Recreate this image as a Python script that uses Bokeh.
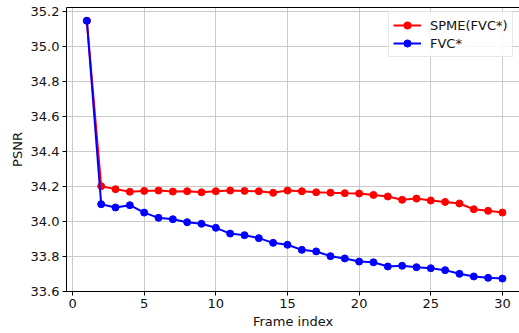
from bokeh.plotting import figure
from bokeh.models import FixedTicker, NumeralTickFormatter, LinearAxis, Range1d
from bokeh.embed import file_html
from bokeh.resources import INLINE

frames = list(range(1, 31))
spme = [35.147, 34.202, 34.185, 34.170, 34.175, 34.177, 34.171, 34.173, 34.167, 34.173,
        34.177, 34.175, 34.173, 34.164, 34.177, 34.173, 34.167, 34.165, 34.162, 34.160,
        34.152, 34.143, 34.124, 34.131, 34.120, 34.112, 34.103, 34.070, 34.061, 34.051]
fvc = [35.147, 34.099, 34.080, 34.093, 34.051, 34.021, 34.013, 33.996, 33.987, 33.964,
       33.931, 33.922, 33.905, 33.878, 33.867, 33.838, 33.829, 33.802, 33.789, 33.771,
       33.767, 33.743, 33.747, 33.739, 33.733, 33.722, 33.701, 33.686, 33.678, 33.674]
x_ticks = [0, 5, 10, 15, 20, 25, 30]
y_ticks = [33.6, 33.8, 34.0, 34.2, 34.4, 34.6, 34.8, 35.0, 35.2]

FONT = "DejaVu Sans"

p = figure(width=519, height=333, output_backend="svg", toolbar_location=None,
           x_range=Range1d(-0.42, 31.19), y_range=Range1d(33.6, 35.223),
           min_border_left=66, min_border_right=0, min_border_top=7, min_border_bottom=42)
p.background_fill_color = "white"
p.border_fill_color = "white"
p.outline_line_color = None

for ax in (p.xaxis[0], p.yaxis[0]):
    ax.axis_line_color = "black"
    ax.axis_line_width = 1
    ax.major_tick_line_color = "black"
    ax.major_tick_out = 4
    ax.major_tick_in = 0
    ax.minor_tick_line_color = None
    ax.major_label_text_font = FONT
    ax.major_label_text_font_size = "13px"
    ax.major_label_text_color = "#111111"
    ax.axis_label_text_font = FONT
    ax.axis_label_text_font_size = "13px"
    ax.axis_label_text_font_style = "normal"
    ax.axis_label_text_color = "#111111"

p.xaxis.ticker = FixedTicker(ticks=x_ticks)
p.yaxis.ticker = FixedTicker(ticks=y_ticks)
p.yaxis.formatter = NumeralTickFormatter(format="0.0")
p.xaxis.axis_label = "Frame index"
p.yaxis.axis_label = "PSNR"
p.xaxis.major_label_standoff = 3
p.xaxis.axis_label_standoff = 3
p.yaxis.major_label_standoff = 3
p.yaxis.axis_label_standoff = 3

top = LinearAxis(ticker=FixedTicker(ticks=[]), axis_line_color="black",
                 major_tick_line_color=None, minor_tick_line_color=None,
                 major_label_text_font_size="0px", major_label_standoff=0)
p.add_layout(top, "above")

p.xgrid.grid_line_color = "#cbcbcb"
p.ygrid.grid_line_color = "#cbcbcb"
p.xgrid.grid_line_width = 1
p.ygrid.grid_line_width = 1

p.line(frames, spme, line_color="#ff0000", line_width=2, legend_label="SPME(FVC*)")
p.scatter(frames, spme, size=7, fill_color="#ff0000", line_color="#ff0000", legend_label="SPME(FVC*)")
p.line(frames, fvc, line_color="#0000ff", line_width=2, legend_label="FVC*")
p.scatter(frames, fvc, size=7, fill_color="#0000ff", line_color="#0000ff", legend_label="FVC*")

lg = p.legend[0]
lg.location = (322, 234)
lg.label_text_font = FONT
lg.label_text_font_size = "13px"
lg.label_text_color = "#111111"
lg.border_line_color = "#d0d0d0"
lg.border_line_width = 1
lg.background_fill_alpha = 0.85
lg.padding = 4
lg.spacing = 0
lg.margin = 0
lg.glyph_width = 28
lg.glyph_height = 18
lg.label_height = 18
lg.label_standoff = 9

open("out.html", "w").write(file_html(p, INLINE))
